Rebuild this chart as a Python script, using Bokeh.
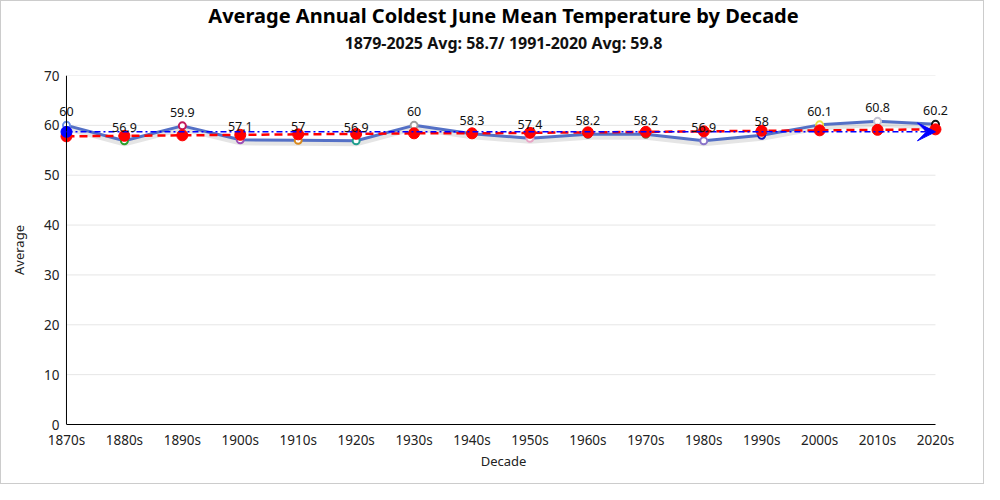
from bokeh.plotting import figure
from bokeh.models import (FixedTicker, Title, Arrow, VeeHead, ColumnDataSource,
                          LabelSet, Span)
from bokeh.core.properties import value
from bokeh.embed import file_html
from bokeh.resources import INLINE

# ---- data ----
decades = ["1870s", "1880s", "1890s", "1900s", "1910s", "1920s", "1930s", "1940s",
           "1950s", "1960s", "1970s", "1980s", "1990s", "2000s", "2010s", "2020s"]
averages = [60.0, 56.9, 59.9, 57.1, 57.0, 56.9, 60.0, 58.3,
            57.4, 58.2, 58.2, 56.9, 58.0, 60.1, 60.8, 60.2]
trend = [57.8, 57.9, 58.0, 58.1, 58.2, 58.3, 58.4, 58.4,
         58.5, 58.6, 58.7, 58.8, 58.9, 59.0, 59.1, 59.2]
overall_avg = 58.7
normal_avg = 59.8
marker_colors = ["#6a8ee8", "#2ca02c", "#c2185b", "#9c4fb5", "#d9891c", "#1f9e8e",
                 "#9e9e9e", "#8c6d3f", "#e8a3c4", "#555555", "#6b6b3a", "#8a74c9",
                 "#1a1ab8", "#e6e046", "#c4c4d4", "#111111"]
y_ticks = [0, 10, 20, 30, 40, 50, 60, 70]
title_text = "Average Annual Coldest June Mean Temperature by Decade"
subtitle_text = f"1879-2025 Avg: {overall_avg}/ 1991-2020 Avg: {normal_avg}"

FONT = "Noto Sans"
PAD_L = 0.155  # room so edge markers / labels are not clipped
PAD_R = 0.242

xs = list(range(len(decades)))
src = ColumnDataSource(dict(
    x=xs, y=averages, c=marker_colors,
    lbl=[f"{v:g}" for v in averages],
    shadow=[v - 0.5 for v in averages],
    trend=trend,
))

p = figure(width=984, height=484, output_backend="svg", toolbar_location=None,
           x_range=(xs[0] - PAD_L, xs[-1] + PAD_R), y_range=(y_ticks[0], y_ticks[-1]),
           min_border_left=56, min_border_right=36, min_border_top=74,
           min_border_bottom=61, title=None)
p.outline_line_color = None
p.background_fill_color = "white"
p.border_fill_color = "white"

# titles (first added sits nearest the plot; the first is a blank spacer)
p.add_layout(Title(text=" ", text_font=FONT, text_font_size="1px", standoff=18), "above")
p.add_layout(Title(text=subtitle_text, text_font=FONT, text_font_size="16px",
                   text_font_style="bold", align="center", text_color="#111111",
                   vertical_align="bottom", standoff=2), "above")
p.add_layout(Title(text=title_text, text_font=FONT, text_font_size="20px",
                   text_font_style="bold", align="center", text_color="#000000",
                   vertical_align="top", standoff=-5), "above")

# axes
p.xaxis.ticker = FixedTicker(ticks=xs)
p.xaxis.major_label_overrides = {i: d for i, d in enumerate(decades)}
p.xaxis.bounds = (xs[0], xs[-1])
p.yaxis.ticker = FixedTicker(ticks=y_ticks)
for ax in (p.xaxis[0], p.yaxis[0]):
    ax.axis_line_color = "#000000"
    ax.axis_line_width = 1
    ax.major_tick_line_color = None
    ax.minor_tick_line_color = None
    ax.major_tick_out = 0
    ax.major_tick_in = 0
    ax.minor_tick_out = 0
    ax.minor_tick_in = 0
    ax.major_label_text_font = FONT
    ax.major_label_text_font_size = "13.5px"
    ax.major_label_text_color = "#222222"
    ax.axis_label_text_font = FONT
    ax.axis_label_text_font_size = "13px"
    ax.axis_label_text_font_style = "normal"
    ax.axis_label_text_color = "#222222"
p.yaxis.axis_line_color = None
p.xaxis.axis_label = "Decade"
p.yaxis.axis_label = "Average"
p.xaxis.major_label_standoff = 6
p.yaxis.major_label_standoff = -2
p.xaxis.axis_label_standoff = 0
p.yaxis.axis_label_standoff = 13
p.xgrid.grid_line_color = None
p.ygrid.grid_line_color = None

# horizontal grid lines spanning the decades
n = len(y_ticks)
p.segment(x0=[xs[0]] * n, x1=[xs[-1]] * n, y0=y_ticks, y1=y_ticks,
          line_color="#e6e6e6", line_width=1)

# vertical axis line at the first decade
p.add_layout(Span(location=xs[0], dimension="height", line_color="#000000", line_width=1))

# shadow + main line
p.line("x", "shadow", source=src, line_color="#000000", line_alpha=0.10, line_width=6)
p.line("x", "y", source=src, line_color="#5470c6", line_width=3)
p.scatter("x", "y", source=src, size=7, fill_color="white", line_color="c", line_width=2)

# trend line
p.line("x", "trend", source=src, line_color="#ff0000", line_width=2.5, line_dash="8 5")
p.scatter("x", "trend", source=src, size=11, fill_color="#ff0000", line_color="#ff0000")

# overall average line with arrow
p.add_layout(Arrow(x_start=xs[0], y_start=overall_avg, x_end=xs[-1], y_end=overall_avg,
                   line_color="#0000ff", line_width=1.5, line_dash="6 3 2 3",
                   end=VeeHead(size=18, fill_color="#0000ff", line_color="#0000ff")))
p.scatter([xs[0]], [overall_avg], size=11, fill_color="#0000ff", line_color="#0000ff")

# data labels
p.add_layout(LabelSet(x="x", y="y", text="lbl", source=src, text_font=value(FONT),
                      text_font_size="12.5px", text_align="center",
                      text_baseline="bottom", y_offset=9, text_color="#111111"))

p.styles = {"border": "1px solid #cccccc"}

open("out.html", "w").write(file_html(p, INLINE))
